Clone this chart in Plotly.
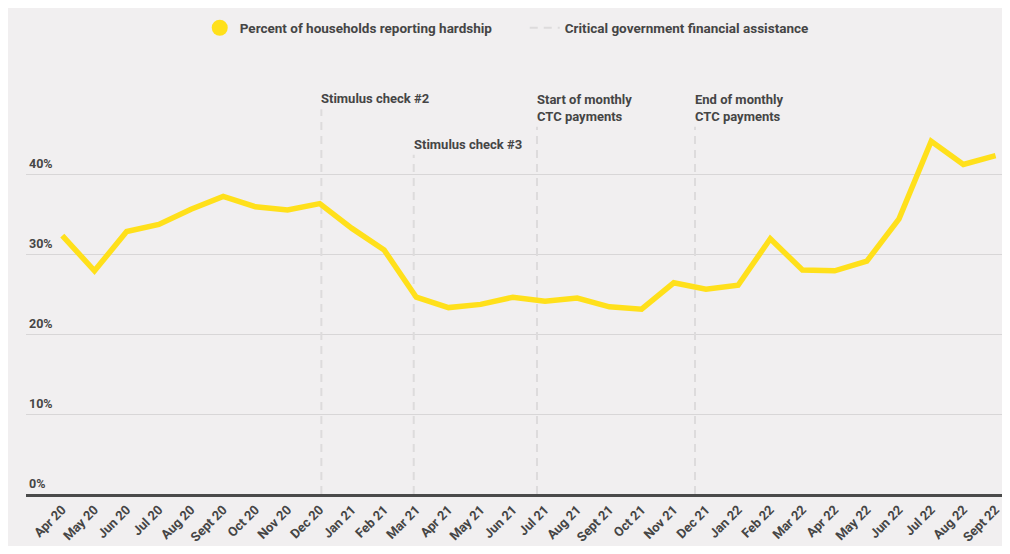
import plotly.graph_objects as go

months = [
    "Apr 20", "May 20", "Jun 20", "Jul 20", "Aug 20", "Sept 20", "Oct 20", "Nov 20", "Dec 20",
    "Jan 21", "Feb 21", "Mar 21", "Apr 21", "May 21", "Jun 21", "Jul 21", "Aug 21", "Sept 21",
    "Oct 21", "Nov 21", "Dec 21", "Jan 22", "Feb 22", "Mar 22", "Apr 22", "May 22", "Jun 22",
    "Jul 22", "Aug 22", "Sept 22",
]
hardship_pct = [
    32.3, 27.9, 32.8, 33.7, 35.6, 37.2, 35.9, 35.5, 36.3,
    33.2, 30.5, 24.6, 23.3, 23.7, 24.6, 24.1, 24.5, 23.4,
    23.1, 26.4, 25.6, 26.1, 31.9, 28.0, 27.9, 29.1, 34.4,
    44.1, 41.2, 42.3,
]

# assistance events, placed on the month index scale
event_x = [8.05, 10.92, 14.75, 19.66]
event_labels = [
    "Stimulus check #2",
    "Stimulus check #3",
    "Start of monthly<br>CTC payments",
    "End of monthly<br>CTC payments",
]
event_tops = [48.1, 42.4, 45.9, 45.9]

y_ticks = [0, 10, 20, 30, 40]

BG = "#f1eff0"
TEXT = "#454545"
YELLOW = "#ffe01b"
DASH = "#dddbdc"
FONT = "Roboto"

x_idx = list(range(len(months)))

fig = go.Figure()

# vertical dashed markers for the assistance events
vx, vy = [], []
for x, top in zip(event_x, event_tops):
    vx += [x, x, None]
    vy += [0, top, None]
fig.add_trace(go.Scatter(
    x=vx, y=vy, mode="lines",
    line=dict(color=DASH, width=2, dash="8px,6px"),
    showlegend=False, hoverinfo="skip",
))

fig.add_trace(go.Scatter(
    x=x_idx, y=hardship_pct, mode="lines",
    line=dict(color=YELLOW, width=5.5),
    showlegend=False,
))

# legend-only entries
fig.add_trace(go.Scatter(
    x=[None], y=[None], mode="markers",
    marker=dict(color=YELLOW, size=16),
    name="Percent of households reporting hardship",
))
fig.add_trace(go.Scatter(
    x=[None], y=[None], mode="lines",
    line=dict(color=DASH, width=2, dash="8px,6px"),
    name="Critical government financial assistance",
))

for x, top, label in zip(event_x, event_tops, event_labels):
    fig.add_annotation(
        x=x, y=top, text=label, showarrow=False,
        xanchor="left", yanchor="bottom", align="left",
        xshift=-2, yshift=1,
        font=dict(family=FONT, size=13, color=TEXT, weight="bold"),
    )

fig.update_layout(
    width=994,
    height=538,
    paper_bgcolor=BG,
    plot_bgcolor=BG,
    margin=dict(l=18, r=0, t=86, b=52),
    font=dict(family=FONT, color=TEXT, weight="bold"),
    legend=dict(
        orientation="h",
        x=0.511, y=1.165, xanchor="center", yanchor="middle",
        font=dict(size=13.5, color=TEXT, weight="bold"),
        entrywidth=280,
        bgcolor="rgba(0,0,0,0)",
    ),
    xaxis=dict(
        range=[-1.128, 29.2],
        automargin=False,
        tickmode="array",
        tickvals=x_idx,
        ticktext=months,
        tickangle=-45,
        ticklabeloverflow="allow",
        tickfont=dict(size=13, color=TEXT, weight="bold"),
        showgrid=False,
        zeroline=False,
        showline=True,
        linecolor="#4a4a4a",
        linewidth=3,
        ticks="",
    ),
    yaxis=dict(
        range=[0, 50],
        automargin=False,
        tickmode="array",
        tickvals=y_ticks,
        ticktext=[f"{v}%" for v in y_ticks],
        ticklabelposition="inside",
        ticklabeloverflow="allow",
        ticklabelshift=-10,
        ticklabelstandoff=0,
        ticks="",
        ticklen=0,
        tickfont=dict(size=12.5, color=TEXT, weight="bold"),
        showgrid=True,
        gridcolor="#d8d6d7",
        gridwidth=1,
        zeroline=False,
        showline=False,
    ),
)

fig.write_html("out.html")
